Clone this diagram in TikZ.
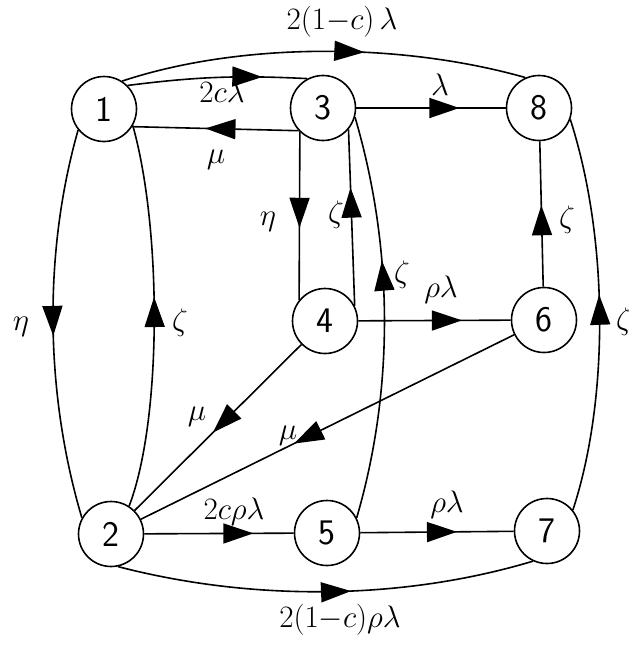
\documentclass[tikz,border=0pt]{standalone}
\usepackage{graphicx}
\usepackage{tikz}
\usetikzlibrary{arrows.meta,decorations.markings}
\newcommand{\rate}[1]{\scalebox{1.25}{$#1$}}
\tikzset{
  st/.style={circle, draw=black, line width=1.6pt, minimum size=65pt, inner sep=0pt,
             font=\sffamily\fontsize{36}{38}\selectfont},
  edg/.style={line width=1.6pt},
  arr/.style={edg, decoration={markings,
              mark=at position #1 with {\arrow{Triangle[length=30pt,width=20pt]}}},
              postaction={decorate}},
  arr/.default=0.6,
  lbl/.style={font=\fontsize{24}{26}\selectfont, inner sep=0pt},
}
\begin{document}
\begin{tikzpicture}[x=1pt, y=-1pt]
  \useasboundingbox (0,0) rectangle (629,648);
  % states
  \node[st] (n1) at (104,109) {1};
  \node[st] (n3) at (323,108) {3};
  \node[st] (n8) at (539,108) {8};
  \node[st] (n4) at (325,321) {4};
  \node[st] (n6) at (544,320) {6};
  \node[st] (n2) at (111,534) {2};
  \node[st] (n5) at (327,533) {5};
  \node[st] (n7) at (547,531) {7};
  % transitions
  \draw[arr=0.6] (n1.57) .. controls (240,42) and (400,42) .. (n8.114);
  \draw[arr=0.75] (n1.45) to[bend left=5] (n3.118);
  \draw[arr=0.56] (n3.-137) -- (n1.-32);
  \draw[arr=0.69] (n3) -- (n8);
  \draw[arr=0.57] (n3.-134) -- (n4.141);
  \draw[arr=0.67] (n4.27) -- (n3.-40);
  \draw[arr=0.64] (n5.27) .. controls (394,390) and (394,250) .. (n3.-16);
  \draw[arr=0.68] (n4) -- (n6);
  \draw[arr=0.56] (n6) -- (n8);
  \draw[arr=0.55] (n7.39) .. controls (609,400) and (609,240) .. (n8.-20);
  \draw[arr=0.53] (n1.-141) .. controls (44,250) and (44,390) .. (n2.151);
  \draw[arr=0.55] (n2.57) .. controls (162,420) and (162,230) .. (n1.-30);
  \draw[arr=0.53] (n4) -- (n2);
  \draw[arr=0.59] (n6) -- (n2);
  \draw[arr=0.73] (n2) -- (n5);
  \draw[arr=0.63] (n5) -- (n7);
  \draw[arr=0.56] (n2.-78) .. controls (250,601) and (400,601) .. (n7.-115);
  % rates
  \node[lbl] (l18) at (342,22) {\rate{2(1{-}c)\,\lambda}};
  \node[lbl] (l13) at (222,92) {\rate{2c\lambda}};
  \node[lbl] (l31) at (216,160) {\rate{\mu}};
  \node[lbl] (l38) at (440,85) {\rate{\lambda}};
  \node[lbl] (l34) at (268,222) {\rate{\eta}};
  \node[lbl] (l43) at (336,215) {\rate{\zeta}};
  \node[lbl] (l53) at (402,275) {\rate{\zeta}};
  \node[lbl] (l46) at (441,290) {\rate{\rho\lambda}};
  \node[lbl] (l68) at (567,220) {\rate{\zeta}};
  \node[lbl] (l78) at (624,322) {\rate{\zeta}};
  \node[lbl] (l12) at (21,327) {\rate{\eta}};
  \node[lbl] (l21) at (180,323) {\rate{\zeta}};
  \node[lbl] (l42) at (197,417) {\rate{\mu}};
  \node[lbl] (l62) at (288,436) {\rate{\mu}};
  \node[lbl] (l25) at (234,512) {\rate{2c\rho\lambda}};
  \node[lbl] (l57) at (447,505) {\rate{\rho\lambda}};
  \node[lbl] (l27) at (340,620) {\rate{2(1{-}c)\rho\lambda}};
\end{tikzpicture}
\end{document}
